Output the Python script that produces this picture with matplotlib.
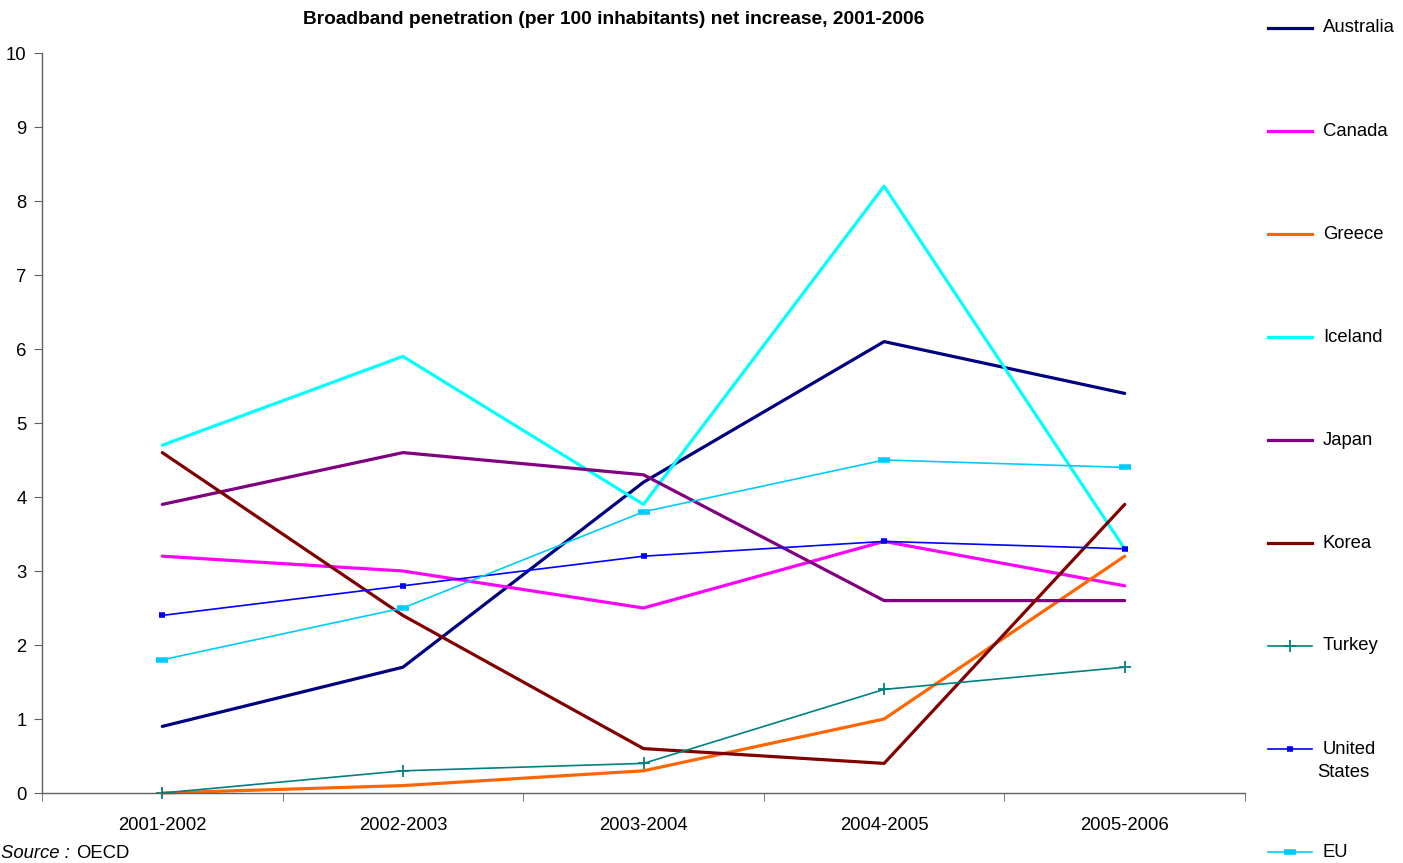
import matplotlib.pyplot as plt
from matplotlib.lines import Line2D

plt.rcParams['font.family'] = ['Liberation Sans', 'DejaVu Sans']

periods = ["2001-2002", "2002-2003", "2003-2004", "2004-2005", "2005-2006"]

australia = [0.9, 1.7, 4.2, 6.1, 5.4]
canada = [3.2, 3.0, 2.5, 3.4, 2.8]
greece = [0.0, 0.1, 0.3, 1.0, 3.2]
iceland = [4.7, 5.9, 3.9, 8.2, 3.3]
japan = [3.9, 4.6, 4.3, 2.6, 2.6]
korea = [4.6, 2.4, 0.6, 0.4, 3.9]
turkey = [0.0, 0.3, 0.4, 1.4, 1.7]
united_states = [2.4, 2.8, 3.2, 3.4, 3.3]
eu = [1.8, 2.5, 3.8, 4.5, 4.4]

# name, values, colour, width, marker, marker size, marker edge width
series = [
    ("Australia", australia, "#000080", 2.3, None, 0, 0),
    ("Canada", canada, "#FF00FF", 2.3, None, 0, 0),
    ("Greece", greece, "#FF6600", 2.3, None, 0, 0),
    ("Iceland", iceland, "#00FFFF", 2.3, None, 0, 0),
    ("Japan", japan, "#800080", 2.3, None, 0, 0),
    ("Korea", korea, "#800000", 2.3, None, 0, 0),
    ("Turkey", turkey, "#008080", 1.2, "+", 9, 1.3),
    ("United\nStates", united_states, "#0000FF", 1.2, "_", 5, 4),
    ("EU", eu, "#00CCFF", 1.2, "_", 8, 4),
]

W, H = 1403, 863
FS = 13.3
fig = plt.figure(figsize=(W / 100, H / 100), dpi=100)
ax = fig.add_axes([42 / W, 1 - 793 / H, (1245 - 42) / W, (793 - 53) / H])

x = list(range(len(periods)))
for name, vals, color, lw, marker, ms, mew in series:
    ax.plot(x, vals, color=color, lw=lw, marker=marker, markersize=ms,
            markeredgewidth=mew, solid_capstyle="round", solid_joinstyle="round",
            clip_on=False)

ax.set_xlim(-0.5, len(periods) - 0.5)
ax.set_ylim(0, 10)
ax.set_yticks(range(0, 11))
ax.set_xticks(x)
ax.set_xticklabels(periods)
ax.set_xticks([i + 0.5 for i in range(-1, len(periods))], minor=True)
ax.tick_params(axis="x", which="major", length=0, pad=17, labelsize=FS)
ax.tick_params(axis="x", which="minor", length=6, color="#606060", direction="out")
ax.tick_params(axis="y", length=6, color="#606060", direction="out", pad=5, labelsize=FS)

for s in ["top", "right"]:
    ax.spines[s].set_visible(False)
for s in ["left", "bottom"]:
    ax.spines[s].set_color("#606060")
    ax.spines[s].set_linewidth(1.0)

fig.text(614 / W, 1 - 19 / H, "Broadband penetration (per 100 inhabitants) net increase, 2001-2006",
         ha="center", va="center", fontsize=13.8, fontweight="bold")

# legend drawn down the right margin
for i, (name, vals, color, lw, marker, ms, mew) in enumerate(series):
    yp = 28 + i * 103.0
    y = 1 - yp / H
    fig.add_artist(Line2D([1268 / W, 1312 / W], [y, y], transform=fig.transFigure,
                          color=color, lw=lw))
    if marker:
        fig.add_artist(Line2D([1290 / W], [y], transform=fig.transFigure, color=color,
                              marker=marker, markersize=ms, markeredgewidth=mew, lw=0))
    if "\n" in name:
        first, second = name.split("\n")
        fig.text(1323 / W, y, first, ha="left", va="center", fontsize=FS)
        fig.text(1343 / W, 1 - (yp + 23) / H, second, ha="center", va="center", fontsize=FS)
    else:
        fig.text(1323 / W, y, name, ha="left", va="center", fontsize=FS)

fig.text(1 / W, 1 - 853 / H, "Source :", style="italic", fontsize=FS, va="center")
fig.text(76 / W, 1 - 853 / H, "OECD", fontsize=FS, va="center")

fig.savefig("out.png", dpi=100)
